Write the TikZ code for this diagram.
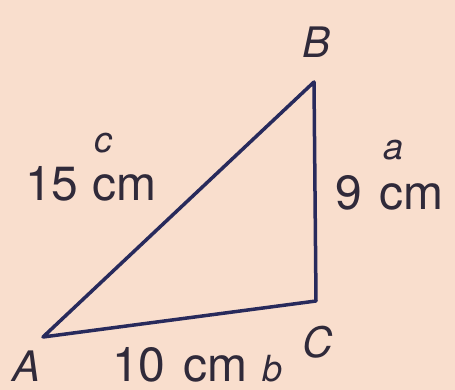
\documentclass[tikz,border=0pt]{standalone}
\usepackage{fontspec}
\setmainfont{TeX Gyre Heros}
\definecolor{bg}{RGB}{249,222,205}
\definecolor{ln}{RGB}{40,42,92}
\definecolor{tx}{RGB}{48,42,58}
\begin{document}
\begin{tikzpicture}[x=1pt,y=-1pt,
  side/.style={draw=ln,line width=3.5pt,line join=round,line cap=round},
  meas/.style={inner sep=0pt,anchor=base west,text=tx,font=\fontsize{48}{48}\selectfont},
  vert/.style={inner sep=0pt,anchor=base west,text=tx,font=\fontsize{42}{42}\selectfont\itshape},
  sml/.style={inner sep=0pt,text=tx,font=\fontsize{36}{36}\selectfont\itshape}]
\fill[bg] (0,0) rectangle (455,390);
\useasboundingbox (0,0) rectangle (455,390);
\coordinate (A) at (43,337);
\coordinate (B) at (314,82);
\coordinate (C) at (316,301);
\draw[side] (A) -- (B) -- (C) -- cycle;
\node[vert] (lB) at (302,58) {B};
\node[vert] (lA) at (12,381) {A};
\node[vert] (lC) at (302,357) {C};
\node[meas] (l15) at (25,201) {15\hspace{14pt}cm};
\node[meas] (l9) at (335,210) {9\hspace{18pt}cm};
\node[meas] (l10) at (112,381) {10\hspace{18pt}cm};
\node[sml] (lc) at (103,143) {c};
\node[sml] (la) at (394,150) {a};
\node[sml,anchor=base west] (lb) at (262,381) {b};
\end{tikzpicture}
\end{document}
